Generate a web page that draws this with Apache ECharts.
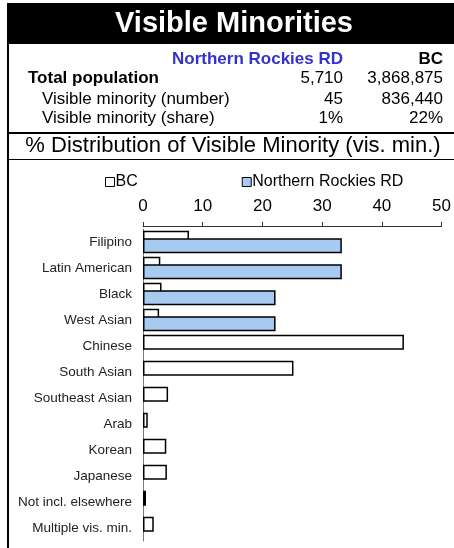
<!DOCTYPE html>
<html>
<head>
<meta charset="utf-8">
<script src="https://cdn.jsdelivr.net/npm/echarts@6/dist/echarts.min.js"></script>
<style>
html,body{margin:0;padding:0;background:#fff;}
#chart{width:454px;height:548px;}
</style>
</head>
<body>
<div id="chart"></div>
<script>
var titleText = 'Visible Minorities';
var regionName = 'Northern Rockies RD';
var provinceName = 'BC';
var statLabels = ['Total population', 'Visible minority (number)', 'Visible minority (share)'];
var regionStats = ['5,710', '45', '1%'];
var provinceStats = ['3,868,875', '836,440', '22%'];
var subTitle = '% Distribution of Visible Minority (vis. min.)';

var categories = ['Filipino', 'Latin American', 'Black', 'West Asian', 'Chinese', 'South Asian',
  'Southeast Asian', 'Arab', 'Korean', 'Japanese', 'Not incl. elsewhere', 'Multiple vis. min.'];
var bcValues = [7.7, 2.9, 3.1, 2.7, 43.7, 25.2, 4.2, 0.8, 3.9, 4.0, 0.5, 1.8];
var regionValues = [33.3, 33.3, 22.2, 22.2, 0, 0, 0, 0, 0, 0, 0, 0];
var axisTicks = [0, 50, 10];

var FONT = '"Liberation Sans", Arial, sans-serif';
var chart = echarts.init(document.getElementById('chart'), null, {renderer: 'canvas'});

var rowY = [78, 99, 118];
var graphics = [
  {type: 'rect', shape: {x: 7, y: 3, width: 447, height: 41}, style: {fill: '#000'}},
  {type: 'text', x: 234, y: 24, style: {text: titleText, fill: '#fff', font: 'bold 29px ' + FONT, textAlign: 'center', textVerticalAlign: 'middle'}},
  {type: 'rect', shape: {x: 7, y: 44, width: 2, height: 504}, style: {fill: '#000'}},
  {type: 'rect', shape: {x: 7, y: 132, width: 447, height: 2}, style: {fill: '#000'}},
  {type: 'rect', shape: {x: 7, y: 159, width: 447, height: 1}, style: {fill: '#000'}},
  {type: 'text', x: 343, y: 59, style: {text: regionName, fill: '#3333cc', font: 'bold 17px ' + FONT, textAlign: 'right', textVerticalAlign: 'middle'}},
  {type: 'text', x: 443, y: 59, style: {text: provinceName, fill: '#000', font: 'bold 17px ' + FONT, textAlign: 'right', textVerticalAlign: 'middle'}},
  {type: 'text', x: 233, y: 146, style: {text: subTitle, fill: '#000', font: '22px ' + FONT, textAlign: 'center', textVerticalAlign: 'middle'}}
];
statLabels.forEach(function (lab, i) {
  graphics.push({type: 'text', x: i === 0 ? 28 : 42, y: rowY[i], style: {text: lab, fill: '#000', font: (i === 0 ? 'bold ' : '') + '17px ' + FONT, textVerticalAlign: 'middle'}});
  graphics.push({type: 'text', x: 343, y: rowY[i], style: {text: regionStats[i], fill: '#000', font: '17px ' + FONT, textAlign: 'right', textVerticalAlign: 'middle'}});
  graphics.push({type: 'text', x: 443, y: rowY[i], style: {text: provinceStats[i], fill: '#000', font: '17px ' + FONT, textAlign: 'right', textVerticalAlign: 'middle'}});
});

chart.setOption({
  animation: false,
  backgroundColor: '#fff',
  graphic: graphics,
  legend: {
    data: [provinceName, regionName],
    left: 100, top: 169,
    itemWidth: 9, itemHeight: 9, itemGap: 104,
    icon: 'rect',
    itemStyle: {borderWidth: 1},
    textStyle: {fontFamily: FONT, fontSize: 16, color: '#000', padding: [0, 0, 0, -4]}
  },
  grid: {left: 143, right: 11, top: 229, bottom: 7, containLabel: false},
  xAxis: {
    type: 'value', position: 'top', min: axisTicks[0], max: axisTicks[1], interval: axisTicks[2],
    offset: 3,
    axisLine: {show: true, lineStyle: {color: '#333', width: 1}},
    axisTick: {show: true, inside: false, length: 4, lineStyle: {color: '#333'}},
    axisLabel: {fontFamily: FONT, fontSize: 17, color: '#000', margin: 11},
    splitLine: {show: false}
  },
  yAxis: {
    type: 'category', data: categories, inverse: true,
    axisLine: {show: true, lineStyle: {color: '#777', width: 1}},
    axisTick: {show: false},
    axisLabel: {fontFamily: FONT, fontSize: 13.5, color: '#222', margin: 11}
  },
  series: [
    {name: provinceName, type: 'bar', data: bcValues, barWidth: 15, barGap: '-50%',
     itemStyle: {color: '#fff', borderColor: '#000', borderWidth: 1.5}},
    {name: regionName, type: 'bar',
     data: regionValues.map(function (v) { return v === 0 ? '-' : v; }), barWidth: 15,
     itemStyle: {color: '#a6caf0', borderColor: '#000', borderWidth: 1.5}}
  ]
});
</script>
</body>
</html>
